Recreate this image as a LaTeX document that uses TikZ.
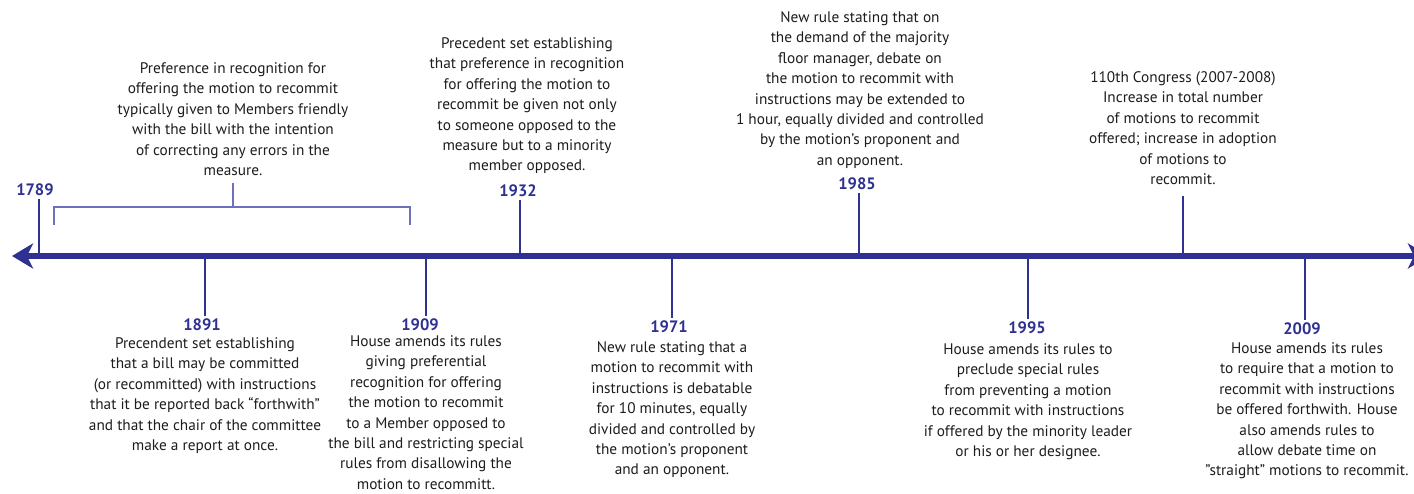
\documentclass[tikz,border=0pt]{standalone}
\usepackage{fontspec}
\setmainfont{PT Sans}
\usetikzlibrary{arrows.meta}
\definecolor{axisblue}{RGB}{46,49,146}
\definecolor{brackblue}{RGB}{110,113,186}
\definecolor{txtgray}{RGB}{30,28,30}
\tikzset{
  desc/.style={align=center,text=txtgray,inner sep=0pt,font=\fontsize{15.3}{20.4}\selectfont},
  yearlbl/.style={text=axisblue,inner sep=3pt,font=\fontsize{16.5}{18}\selectfont\bfseries},
  tick/.style={draw=axisblue,line width=2.8pt},
  axisline/.style={draw=axisblue,line width=6.5pt,{Stealth[length=21pt,width=25pt,inset=6pt]}-{Stealth[length=21pt,width=25pt,inset=6pt]}},
  brack/.style={draw=brackblue,line width=1.4pt}
}
\begin{document}
\begin{tikzpicture}[x=1pt,y=-1pt]
\useasboundingbox (0,0) rectangle (1414,494);
\clip (0,0) rectangle (1414,494);
% axis
\coordinate (L) at (12,256);
\coordinate (R) at (1429,256);
\draw[axisline] (L) -- (R);
% axis points
\coordinate (a1789) at (39,256);
\coordinate (a1891) at (205,256);
\coordinate (a1909) at (426,256);
\coordinate (a1932) at (520,256);
\coordinate (a1971) at (672,256);
\coordinate (a1985) at (859,256);
\coordinate (a1995) at (1028,256);
\coordinate (a110) at (1183,256);
\coordinate (a2009) at (1305,256);
% year labels
\node[yearlbl] (y1789) at (35,190) {1789};
\node[yearlbl] (y1891) at (202,325) {1891};
\node[yearlbl] (y1909) at (420,325) {1909};
\node[yearlbl] (y1932) at (518,191) {1932};
\node[yearlbl] (y1971) at (669,327) {1971};
\node[yearlbl] (y1985) at (857,184) {1985};
\node[yearlbl] (y1995) at (1027,328) {1995};
\node[yearlbl] (y2009) at (1302,329) {2009};
% ticks
\draw[tick] (a1789) -- (a1789 |- y1789.south);
\draw[tick] (a1891) -- (a1891 |- y1891.north);
\draw[tick] (a1909) -- (a1909 |- y1909.north);
\draw[tick] (a1932) -- (a1932 |- y1932.south);
\draw[tick] (a1971) -- (a1971 |- y1971.north);
\draw[tick] (a1985) -- (a1985 |- y1985.south);
\draw[tick] (a1995) -- (a1995 |- y1995.north);
\draw[tick] (a2009) -- (a2009 |- y2009.north);
% descriptions
\node[desc,anchor=north] (t1789) at (233,62.5) {Preference in recognition for\\offering the motion to recommit\\typically given to Members friendly\\with the bill with the intention\\of correcting any errors in the\\measure.};
\node[desc,anchor=north] (t1932) at (527,37.5) {Precedent set establishing\\that preference in recognition\\for offering the motion to\\recommit be given not only\\to someone opposed to the\\measure but to a minority\\member opposed.};
\node[desc,anchor=north] (t1985) at (860,11.5) {New rule stating that on\\the demand of the majority\\floor manager, debate on\\the motion to recommit with\\instructions may be extended to\\1 hour, equally divided and controlled\\by the motion’s proponent and\\an opponent.};
\node[desc,anchor=north] (t110) at (1183,71.5) {110th Congress (2007-2008)\\Increase in total number\\of motions to recommit\\offered; increase in adoption\\of motions to\\recommit.};
\node[desc,anchor=north] (t1891) at (205,337.5) {Precendent set establishing\\that a bill may be committed\\(or recommitted) with instructions\\that it be reported back “forthwith”\\and that the chair of the committee\\make a report at once.};
\node[desc,anchor=north] (t1909) at (426,335.5) {House amends its rules\\giving preferential\\recognition for offering\\the motion to recommit\\to a Member opposed to\\the bill and restricting special\\rules from disallowing the\\motion to recommitt.};
\node[desc,anchor=north] (t1971) at (672,341.5) {New rule stating that a\\motion to recommit with\\instructions is debatable\\for 10 minutes, equally\\divided and controlled by\\the motion’s proponent\\and an opponent.};
\node[desc,anchor=north] (t1995) at (1028,343.5) {House amends its rules to\\preclude special rules\\from preventing a motion\\to recommit with instructions\\if offered by the minority leader\\or his or her designee.};
\node[desc,anchor=north] (t2009) at (1307,342.5) {House amends its rules\\to require that a motion to\\recommit with instructions\\be offered forthwith. House\\also amends rules to\\allow debate time on\\"straight" motions to recommit.};
% 110th tick
\draw[tick] (a110) -- (a110 |- 0,196);
% bracket
\coordinate (bl) at (54,225);
\coordinate (br) at (410,225);
\coordinate (bs) at (233,183);
\draw[brack] (bl) -- (54,207) -- (410,207) -- (br);
\draw[brack] (233,207) -- (bs);
\end{tikzpicture}
\end{document}
